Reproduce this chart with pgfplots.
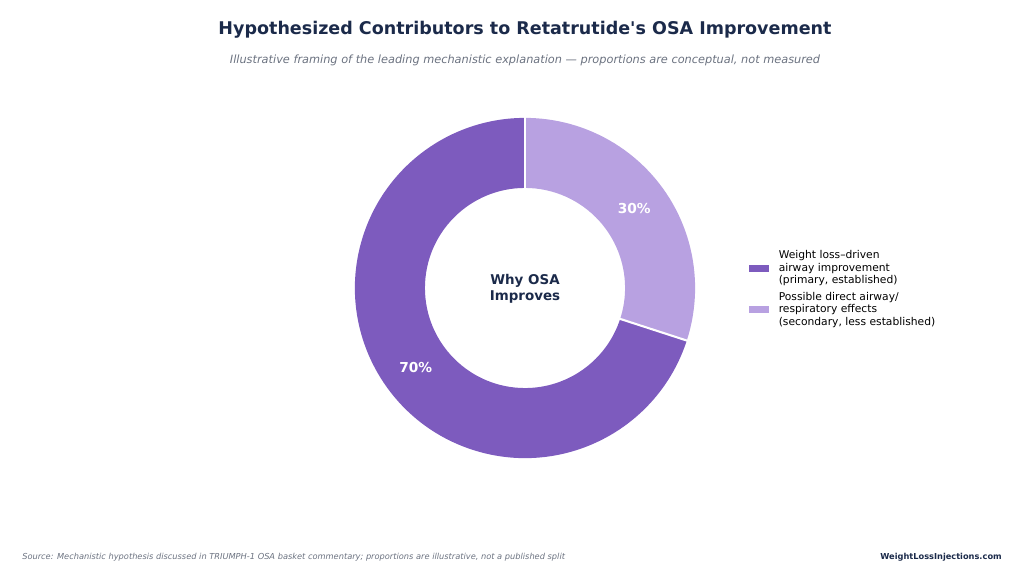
\documentclass[border=0pt]{standalone}
\usepackage{pgfplots}
\usepackage{pgfplotstable}
\pgfplotsset{compat=1.18}
\usetikzlibrary{calc}
\usepackage{fontspec}
\setmainfont{DejaVu Sans}
\newfontfamily\plainfont{DejaVu Sans}
\definecolor{navy}{HTML}{1B2A4A}
\definecolor{dpurple}{HTML}{7D5BBE}
\definecolor{lpurple}{HTML}{B8A1E1}
\definecolor{subgray}{HTML}{6B7280}
\pgfplotstableread{
share
70
30
}\sharetable
\begin{document}
\begin{tikzpicture}
\pgfplotstablegetelem{0}{share}\of\sharetable \let\shareA\pgfplotsretval
\pgfplotstablegetelem{1}{share}\of\sharetable \let\shareB\pgfplotsretval
\pgfmathsetmacro\angB{90-3.6*\shareB}
\pgfmathsetmacro\angBmid{90-1.8*\shareB}
\pgfmathsetmacro\angAmid{\angB-1.8*\shareA}
\pgfmathsetmacro\angAend{\angB-3.6*\shareA}
\begin{axis}[
  x=0.01in, y=0.01in,
  xmin=0, xmax=1024, ymin=0, ymax=583,
  hide axis, clip=false,
  legend style={at={(axis cs:745,294)}, anchor=west, draw=none, fill=none,
    font=\fontsize{7.75}{9}\selectfont, row sep=0.5pt,
    cells={align=left, anchor=west}},
]
\path (axis cs:0,0) rectangle (axis cs:1024,583);
% wedges
\fill[dpurple] (axis cs:525,295) ++(\angB:1.70in) arc[start angle=\angB, end angle=\angAend, radius=1.70in]
  -- ++(\angAend:-0.70in) arc[start angle=\angAend, end angle=\angB, radius=1.00in] -- cycle;
\fill[lpurple] (axis cs:525,295) ++(90:1.70in) arc[start angle=90, end angle=\angB, radius=1.70in]
  -- ++(\angB:-0.70in) arc[start angle=\angB, end angle=90, radius=1.00in] -- cycle;
\draw[white, line width=1.5pt] (axis cs:525,295) ++(90:0.99in) -- ++(90:0.72in);
\draw[white, line width=1.5pt] (axis cs:525,295) ++(\angB:0.99in) -- ++(\angB:0.72in);
\addlegendimage{legend image code/.code={\fill[dpurple] (0in,-0.03in) rectangle (0.19in,0.03in); \path (0.26in,0);}}
\addlegendentry{Weight loss–driven\\airway improvement\\(primary, established)}
\addlegendimage{legend image code/.code={\fill[lpurple] (0in,-0.03in) rectangle (0.19in,0.03in); \path (0.26in,0);}}
\addlegendentry{Possible direct airway/\\respiratory effects\\(secondary, less established)}
% labels
\node[white, font=\fontsize{9.9}{11}\selectfont\bfseries] at ($(axis cs:525,295)+(\angBmid:1.35in)$) {\shareB\%};
\node[white, font=\fontsize{9.9}{11}\selectfont\bfseries] at ($(axis cs:525,295)+(\angAmid:1.35in)$) {\shareA\%};
\node[navy, align=center, font=\fontsize{9.7}{11.2}\selectfont\bfseries] at (axis cs:525,294) {Why OSA\\Improves};
% titles
\node[navy, font=\plainfont\fontsize{12.65}{15}\selectfont\bfseries] at (axis cs:525,553) {Hypothesized Contributors to Retatrutide's OSA Improvement};
\node[subgray, font=\fontsize{8.18}{10}\selectfont\itshape] at (axis cs:525,523) {Illustrative framing of the leading mechanistic explanation — proportions are conceptual, not measured};
\node[subgray, anchor=west, inner sep=0pt, font=\fontsize{5.96}{7}\selectfont\itshape] at (axis cs:22,26) {Source: Mechanistic hypothesis discussed in TRIUMPH-1 OSA basket commentary; proportions are illustrative, not a published split};
\node[navy, anchor=east, inner sep=0pt, font=\fontsize{5.95}{7}\selectfont\bfseries] at (axis cs:1002,26) {WeightLossInjections.com};
\end{axis}
\end{tikzpicture}
\end{document}
